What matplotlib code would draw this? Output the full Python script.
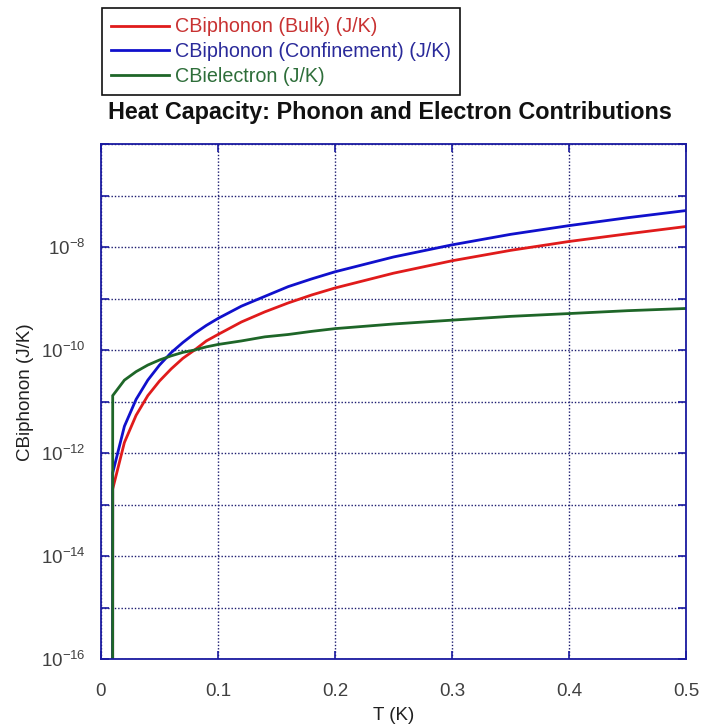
import matplotlib
matplotlib.use("Agg")
import matplotlib.pyplot as plt
import numpy as np
from matplotlib.ticker import FixedLocator, FuncFormatter

plt.rcParams['font.family'] = ['Liberation Sans', 'DejaVu Sans']

# Data
T = [0.0, 0.01, 0.02, 0.03, 0.04, 0.05, 0.06, 0.07, 0.08, 0.09, 0.10,
     0.12, 0.14, 0.16, 0.18, 0.20, 0.25, 0.30, 0.35, 0.40, 0.45, 0.50]
cb_bulk = [0.0, 2.0e-13, 1.6e-12, 5.4e-12, 1.3e-11, 2.5e-11, 4.3e-11, 6.9e-11,
           1.0e-10, 1.5e-10, 2.0e-10, 3.5e-10, 5.5e-10, 8.2e-10, 1.17e-9,
           1.6e-9, 3.1e-9, 5.4e-9, 8.6e-9, 1.28e-8, 1.8e-8, 2.5e-8]
cb_conf = [0.0, 4.1e-13, 3.3e-12, 1.1e-11, 2.6e-11, 5.1e-11, 8.9e-11, 1.4e-10,
           2.1e-10, 3.0e-10, 4.1e-10, 7.1e-10, 1.1e-9, 1.7e-9, 2.4e-9,
           3.3e-9, 6.4e-9, 1.1e-8, 1.76e-8, 2.6e-8, 3.7e-8, 5.1e-8]
cb_elec = [0.0, 1.3e-11, 2.6e-11, 3.8e-11, 5.1e-11, 6.4e-11, 7.7e-11, 9.0e-11,
           1.0e-10, 1.15e-10, 1.28e-10, 1.5e-10, 1.8e-10, 2.0e-10, 2.3e-10,
           2.6e-10, 3.2e-10, 3.8e-10, 4.5e-10, 5.1e-10, 5.8e-10, 6.4e-10]
labels = ['CBiphonon (Bulk) (J/K)', 'CBiphonon (Confinement) (J/K)', 'CBielectron (J/K)']
xticks = [0, 0.1, 0.2, 0.3, 0.4, 0.5]
xticklabels = ['0', '0.1', '0.2', '0.3', '0.4', '0.5']
ydecades = list(range(-16, -5))

line_colors = ['#e01b1b', '#1010cc', '#1e6628']
text_colors = ['#c83232', '#2a2a9a', '#2e6e3a']
axis_color = '#1a1aa0'
grid_color = '#1a1a6e'
tick_text = '#404040'

W, H = 701, 724
fig = plt.figure(figsize=(W / 100, H / 100), dpi=100)
L, R, TOP, BOT = 101, 686, 144, 659
ax = fig.add_axes([L / W, 1 - BOT / H, (R - L) / W, (BOT - TOP) / H])

handles = []
for y, c, lab in zip([cb_bulk, cb_conf, cb_elec], line_colors, labels):
    h, = ax.plot(T, y, color=c, lw=2.0, label=lab, solid_joinstyle='miter')
    handles.append(h)

ax.set_yscale('log', nonpositive='clip')
ax.set_xlim(0, 0.5)
ax.set_ylim(1e-16, 1e-6)

ax.xaxis.set_major_locator(FixedLocator(xticks))
ax.set_xticklabels(xticklabels)
ax.yaxis.set_major_locator(FixedLocator([10.0 ** d for d in ydecades]))
ax.yaxis.set_minor_locator(FixedLocator([]))


def yfmt(v, pos):
    e = int(round(np.log10(v)))
    if e % 2 == 0 and e <= -8:
        return r'$\mathregular{10^{%d}}$' % e
    return ''


ax.yaxis.set_major_formatter(FuncFormatter(yfmt))

ax.grid(True, which='major', linestyle=(0, (1, 1.4)), color=grid_color, lw=1.0)
for s in ax.spines.values():
    s.set_color(axis_color)
    s.set_linewidth(1.3)
ax.tick_params(axis='both', which='major', direction='in', length=6, width=1.2,
               color=axis_color, labelcolor=tick_text, labelsize=13.5,
               top=True, right=True)
ax.tick_params(axis='x', pad=17)
ax.tick_params(axis='y', pad=11)

ax.set_xlabel('T (K)', fontsize=13.5, color='#202020', va='center')
ax.xaxis.set_label_coords(0.5, (BOT - 715) / (BOT - TOP))
ax.set_ylabel('CBiphonon (J/K)', fontsize=13.5, color='#202020', va='center')
ax.yaxis.set_label_coords((26 - L) / (R - L), (BOT - 392) / (BOT - TOP))

fig.text(390 / W, 1 - 112 / H, 'Heat Capacity: Phonon and Electron Contributions',
         ha='center', va='center', fontsize=16.85, fontweight='bold', color='#111111')

leg = fig.legend(handles=handles, labels=labels, loc='upper left',
                 bbox_to_anchor=(102 / W, 1 - 8 / H), borderaxespad=0,
                 fontsize=14.2, frameon=True, fancybox=False, framealpha=1,
                 edgecolor='#111111', handlelength=2.9, handletextpad=0.3,
                 labelspacing=0.28, borderpad=0.48)
leg.get_frame().set_linewidth(1.2)
for t, c in zip(leg.get_texts(), text_colors):
    t.set_color(c)

fig.savefig('out.png', dpi=100)
